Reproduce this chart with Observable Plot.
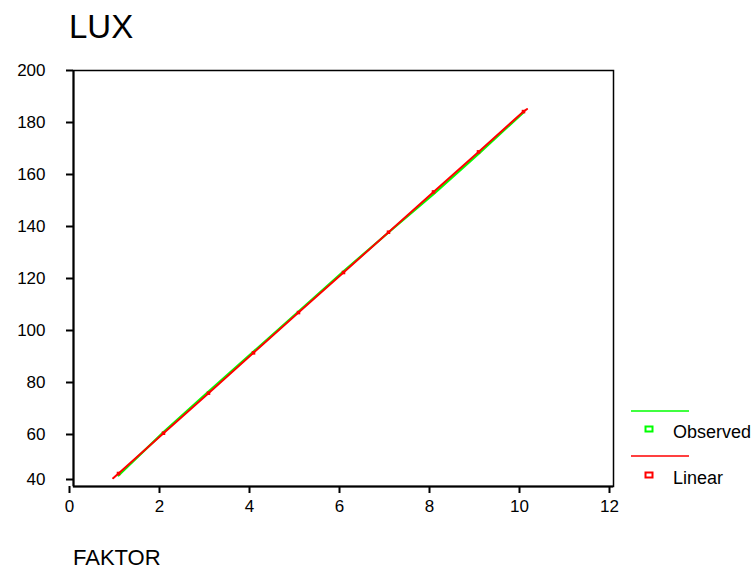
<!DOCTYPE html>
<html>
<head>
<meta charset="utf-8">
<script src="https://cdn.jsdelivr.net/npm/d3@7"></script>
<script src="https://cdn.jsdelivr.net/npm/@observablehq/plot@0.6"></script>
<style>
  body { margin: 0; background: #fff; }
  #wrap { position: relative; width: 755px; height: 572px; overflow: hidden; font-family: "Liberation Sans", Arial, sans-serif; }
  #wrap svg.plot { position: absolute; left: 0; top: 0; }
  .title { position: absolute; left: 69px; top: 8px; font-size: 33px; color: #000; line-height: 1.15; }
  .xlabel { position: absolute; left: 73px; top: 547px; font-size: 22px; color: #000; line-height: 1; }
  .legend { position: absolute; left: 631px; top: 400px; }
</style>
</head>
<body>
<div id="wrap">
  <div class="title">LUX</div>
  <div class="xlabel">FAKTOR</div>
</div>
<script>
// Observed series
const obsFaktor = [1, 2, 3, 4, 5, 6, 7, 8, 9, 10];
const obsLux    = [44.2, 60.9, 76.5, 91.9, 107.3, 122.8, 137.7, 152.4, 167.9, 183.9];
// Linear fit series
const linFaktor = [0.88, 1, 2, 3, 4, 5, 6, 7, 8, 9, 10, 10.08];
const linLux    = [43.2, 45.0, 60.5, 75.9, 91.4, 106.9, 122.3, 137.8, 153.3, 168.7, 184.2, 185.2];
// Tick labels
const xTicks = [0, 2, 4, 6, 8, 10, 12];
const yTicks = [40, 60, 80, 100, 120, 140, 160, 180, 200];
const seriesNames = ["Observed", "Linear"];
const seriesColors = ["#00ff00", "#ff0000"];

const observed = obsFaktor.map((x, i) => ({FAKTOR: x, LUX: obsLux[i]}));
const linear = linFaktor.map((x, i) => ({FAKTOR: x, LUX: linLux[i]}));
const linearMarkers = linear.filter(d => Number.isInteger(d.FAKTOR));

const chart = Plot.plot({
  width: 755,
  height: 572,
  marginLeft: 73,
  marginRight: 142,
  marginTop: 70,
  marginBottom: 86,
  style: {fontFamily: "Liberation Sans, Arial, sans-serif", fontSize: "17px", color: "#000", background: "transparent"},
  x: {domain: [0, 12]},
  y: {domain: [40, 200]},
  marks: [
    Plot.frame({stroke: "#000", strokeWidth: 1.5}),
    Plot.axisX({ticks: xTicks, tickSize: 7, tickPadding: 6, dx: -4, label: null, strokeWidth: 2, fontSize: 17}),
    Plot.axisY({ticks: yTicks.filter(v => v !== 40), tickSize: 7, tickPadding: 21, label: null, strokeWidth: 2, fontSize: 17}),
    Plot.axisY({ticks: [40], tickSize: 7, tickPadding: 21, label: null, strokeWidth: 2, fontSize: 17, dy: -7}),
    Plot.ruleX([0], {stroke: "#000", strokeWidth: 2}),
    Plot.ruleY([40], {stroke: "#000", strokeWidth: 2}),
    Plot.line(observed, {x: "FAKTOR", y: "LUX", stroke: seriesColors[0], strokeWidth: 2.2}),
    Plot.line(linear, {x: "FAKTOR", y: "LUX", stroke: seriesColors[1], strokeWidth: 2}),
    Plot.dot(linearMarkers, {x: "FAKTOR", y: "LUX", symbol: "square", r: 2, fill: seriesColors[1], stroke: "none"})
  ]
});
chart.classList.add("plot");
document.getElementById("wrap").prepend(chart);

// Legend
const legend = document.createElement("div");
legend.className = "legend";
let html = `<svg width="124" height="100" style="display:block;overflow:visible">`;
seriesNames.forEach((name, i) => {
  const c = seriesColors[i];
  const y0 = i * 45;
  html += `
    <line x1="0" x2="58" y1="${y0 + 11}" y2="${y0 + 11}" stroke="${c}" stroke-width="1.5"></line>
    <rect x="14.5" y="${y0 + 26.5 + i}" width="7" height="5" fill="none" stroke="${c}" stroke-width="2"></rect>
    <text x="42" y="${y0 + 38 + i}" font-size="18" font-family="Liberation Sans, Arial, sans-serif" fill="#000">${name}</text>`;
});
html += `</svg>`;
legend.innerHTML = html;
document.getElementById("wrap").appendChild(legend);
</script>
</body>
</html>
